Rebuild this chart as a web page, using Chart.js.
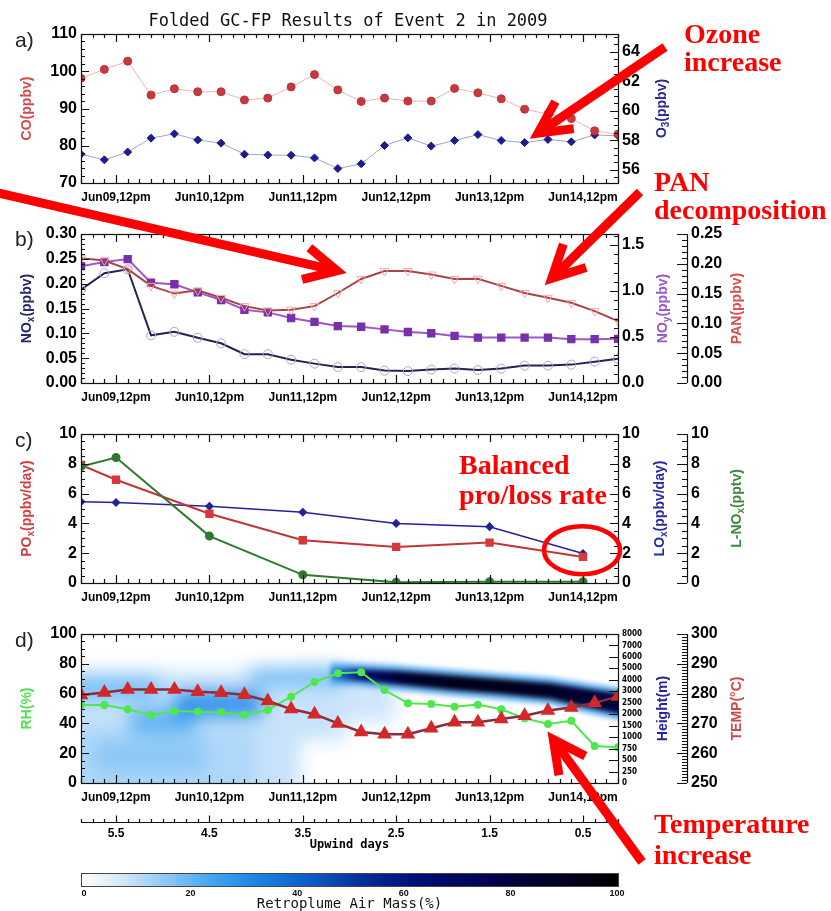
<!DOCTYPE html>
<html>
<head>
<meta charset="utf-8">
<title>Folded GC-FP Results of Event 2 in 2009</title>
<script src="https://cdn.jsdelivr.net/npm/chart.js@4.4.1/dist/chart.umd.min.js"></script>
<style>
  html, body { margin: 0; padding: 0; background: #fff; }
  #page { position: relative; width: 831px; height: 911px; overflow: hidden; background: #fff; }
  #page canvas { position: absolute; left: 0; }
  #notes { position: absolute; left: 0; top: 0; }
</style>
</head>
<body>
<div id="page">
  <canvas id="panelA" width="831" height="212" style="top:0"></canvas>
  <canvas id="panelB" width="831" height="212" style="top:200px"></canvas>
  <canvas id="panelC" width="831" height="212" style="top:400px"></canvas>
  <canvas id="panelD" width="831" height="311" style="top:600px"></canvas>
  <canvas id="arrows" width="831" height="911" style="top:0"></canvas>
  <svg id="notes" width="831" height="911">
    <text x="348" y="26" text-anchor="middle" font-family="DejaVu Sans Mono" font-size="17" fill="#111">Folded GC-FP Results of Event 2 in 2009</text>
    <g font-family="Liberation Sans" font-size="21" fill="#222">
      <text x="15" y="47">a)</text>
      <text x="15" y="246">b)</text>
      <text x="15" y="447">c)</text>
      <text x="15" y="647">d)</text>
    </g>
    <g font-family="Liberation Serif" font-weight="bold" font-size="28" fill="#ff0000">
      <text x="684" y="43">Ozone</text>
      <text x="684" y="71">increase</text>
      <text x="654" y="191">PAN</text>
      <text x="654" y="219">decomposition</text>
      <text x="459" y="474">Balanced</text>
      <text x="459" y="504">pro/loss rate</text>
      <text x="654" y="833">Temperature</text>
      <text x="654" y="864">increase</text>
    </g>
  </svg>
</div>
<script>
// time axis in days since Jun09 00:00
const X_MIN = 0.125, X_MAX = 5.875;
const sixHourDays = [0.125, 0.375, 0.625, 0.875, 1.125, 1.375, 1.625, 1.875, 2.125, 2.375, 2.625, 2.875,
                     3.125, 3.375, 3.625, 3.875, 4.125, 4.375, 4.625, 4.875, 5.125, 5.375, 5.625, 5.875];
const dailyDays = [0.125, 0.5, 1.5, 2.5, 3.5, 4.5, 5.5];
const xTickVals = [0.5, 1.5, 2.5, 3.5, 4.5, 5.5];
const xTickLabels = ['Jun09,12pm', 'Jun10,12pm', 'Jun11,12pm', 'Jun12,12pm', 'Jun13,12pm', 'Jun14,12pm'];

// a) CO and O3
const coPpbv = [98.1, 100.5, 102.7, 93.6, 95.3, 94.5, 94.5, 92.3, 92.8, 95.8, 99.1, 95.0,
                91.9, 92.8, 92.0, 92.0, 95.4, 94.2, 92.6, 89.8, 88.5, 87.3, 84.0, 83.1];
const o3Ppbv = [57.05, 56.67, 57.2, 58.14, 58.43, 58.02, 57.8, 57.05, 57.0, 56.98, 56.8, 56.08,
                56.4, 57.64, 58.16, 57.6, 57.98, 58.38, 57.98, 57.84, 58.05, 57.89, 58.36, 58.3];

// b) NOx, NOy, PAN
const noxPpbv = [0.188, 0.221, 0.229, 0.096, 0.103, 0.091, 0.080, 0.058, 0.058, 0.047, 0.039, 0.032,
                 0.032, 0.025, 0.024, 0.027, 0.029, 0.026, 0.029, 0.035, 0.035, 0.037, 0.043, 0.049];
const noyPpbv = [1.27, 1.315, 1.347, 1.091, 1.074, 0.985, 0.903, 0.797, 0.768, 0.707, 0.664, 0.619,
                 0.611, 0.583, 0.555, 0.541, 0.512, 0.494, 0.494, 0.494, 0.494, 0.477, 0.477, 0.48];
const panPpbv = [0.2095, 0.2055, 0.191, 0.163, 0.15, 0.1555, 0.143, 0.129, 0.1217, 0.123, 0.129, 0.151,
                 0.1745, 0.188, 0.188, 0.182, 0.1745, 0.175, 0.163, 0.151, 0.143, 0.1345, 0.1205, 0.104];

// c) production / loss rates
const poxRate = [7.93, 6.93, 4.65, 2.87, 2.42, 2.71, 1.75];
const loxRate = [5.45, 5.4, 5.15, 4.75, 4.0, 3.78, 1.98];
const lnoxPptv = [7.82, 8.42, 3.15, 0.55, 0.05, 0.09, 0.09];

// d) RH and temperature
const rhPct = [52.3, 52.3, 49.5, 45.6, 48.3, 47.9, 47.4, 45.8, 49.0, 57.9, 67.8, 73.6,
               74.3, 62.4, 53.5, 53.0, 51.2, 52.6, 49.5, 43.4, 39.6, 41.8, 24.8, 24.0];
const tempK = [279.5, 280.4, 281.4, 281.4, 281.4, 280.6, 280.3, 279.6, 277.5, 274.8, 273.1, 270.0,
               267.1, 266.4, 266.4, 268.4, 270.4, 270.4, 271.5, 272.6, 274.3, 275.3, 276.9, 279.0];

// axis tick values
const coTicks = [70, 80, 90, 100, 110];
const o3Ticks = [56, 58, 60, 62, 64];
const noxTicks = [0, 0.05, 0.10, 0.15, 0.20, 0.25, 0.30];
const noyTicks = [0, 0.5, 1.0, 1.5];
const panTicks = [0, 0.05, 0.10, 0.15, 0.20, 0.25];
const rateTicks = [0, 2, 4, 6, 8, 10];
const rhTicks = [0, 20, 40, 60, 80, 100];
const heightLabels = ['0', '250', '500', '750', '1000', '1500', '2000', '2500', '3000', '4000', '5000', '6000', '7000', '8000'];
const heightIndex = [0, 1, 2, 3, 4, 5, 6, 7, 8, 9, 10, 11, 12, 13];
const tempTicks = [250, 260, 270, 280, 290, 300];
const upwindTicks = [5.5, 4.5, 3.5, 2.5, 1.5, 0.5];
const airMassTicks = [0, 20, 40, 60, 80, 100];

// retroplume air mass (%): haze cells [day0, day1, heightIdx0, heightIdx1, percent]
const hazeCells = [
  [0.0, 2.47, -0.5, 9.69, 9],
  [2.47, 2.95, 3.75, 10.2, 9],
  [2.95, 3.49, 5.3, 10.0, 8],
  [0.0, 1.99, -0.5, 4.8, 12],
  [0.275, 1.45, 0.96, 3.75, 16],
  [0.0, 0.97, 7.24, 9.34, 18],
  [0.65, 1.35, 4.45, 6.37, 22],
  [1.13, 2.06, 5.85, 7.94, 30],
  [1.935, 2.95, 8.64, 10.03, 20]
];
// main plume (height index range along time)
const plumeDays = [2.80, 3.12, 3.55, 4.08, 4.61, 5.15, 5.57, 5.875, 6.0];
const plumeLow  = [8.99, 8.90, 8.55, 8.12, 7.77, 7.33, 6.54, 6.02, 5.95];
const plumeHigh = [10.03, 9.95, 9.77, 9.42, 9.08, 8.73, 8.20, 7.85, 7.80];
const plumePct  = [30, 65, 85, 92, 92, 88, 84, 80, 80];
const airMassStops = [
  [0, [255, 255, 255]], [8, [207, 230, 251]], [16, [140, 200, 246]], [24, [69, 166, 242]],
  [32, [31, 134, 230]], [42, [14, 94, 200]], [52, [7, 48, 156]], [62, [2, 15, 120]],
  [80, [0, 0, 64]], [100, [0, 0, 0]]
];

Chart.defaults.font.family = '"Liberation Sans", Arial, sans-serif';
Chart.defaults.color = '#000';
const LABEL_FONT = {size: 16, weight: 'bold'};

function airMassColor(p) {
  for (let i = 1; i < airMassStops.length; i++) {
    const [p0, c0] = airMassStops[i - 1], [p1, c1] = airMassStops[i];
    if (p <= p1) {
      const t = (p - p0) / (p1 - p0);
      return 'rgb(' + c0.map((c, k) => Math.round(c + (c1[k] - c) * t)).join(',') + ')';
    }
  }
  return 'rgb(0,0,0)';
}

function stepValues(min, max, step) {
  const lo = Math.min(min, max), hi = Math.max(min, max), out = [];
  for (let k = Math.ceil(lo / step - 1e-6); k * step <= hi + 1e-6; k++) out.push(k * step);
  return out;
}

function fixedTicks(values) {
  return s => { s.ticks = values.map(v => ({value: v})); };
}

function xAxis() {
  return {
    type: 'linear', position: 'bottom', min: X_MIN, max: X_MAX,
    grid: {display: false, drawTicks: false}, border: {display: false},
    afterBuildTicks: fixedTicks(xTickVals),
    afterFit: s => { s.height = 29; },
    ticks: {autoSkip: false, maxRotation: 0, padding: 7, font: {size: 12, weight: 'bold'},
            callback: (v, i) => xTickLabels[i]}
  };
}

function yAxis(position, min, max, values, width, digits, font, labels) {
  return {
    type: 'linear', position, min, max,
    grid: {display: false, drawTicks: false}, border: {display: false},
    afterBuildTicks: fixedTicks(values),
    afterFit: s => { s.width = width; },
    ticks: {autoSkip: false, padding: 4, font: font || LABEL_FONT,
            callback: (v, i) => labels ? labels[i] : (digits == null ? String(values[i]) : values[i].toFixed(digits))}
  };
}

function series(xs, ys, yAxisID, style) {
  return Object.assign({data: xs.map((x, i) => ({x, y: ys[i]})), yAxisID, tension: 0}, style);
}

// IDL-like frame, tick marks and side titles for each panel
const frameSpecs = {};

const idlFrame = {
  id: 'idlFrame',
  afterDatasetsDraw(chart) {
    const spec = frameSpecs[chart.canvas.id];
    const {ctx, chartArea: a, scales} = chart;
    ctx.save();
    ctx.strokeStyle = '#111';
    ctx.lineWidth = 1.2;
    ctx.strokeRect(Math.round(a.left) + 0.5, Math.round(a.top) + 0.5, Math.round(a.right - a.left), Math.round(a.bottom - a.top));
    ctx.beginPath();
    spec.axes.forEach(ax => {
      const s = scales[ax.id];
      const majLen = ax.majLen || 8, minLen = ax.minLen || 4;
      if (ax.kind === 'float') {
        ctx.moveTo(s.left + 0.5, a.top); ctx.lineTo(s.left + 0.5, a.bottom);
      }
      const lineY = ax.kind === 'upwind' ? Math.round(s.top + 10) + 0.5 : 0;
      if (ax.kind === 'upwind') { ctx.moveTo(a.left, lineY); ctx.lineTo(a.right, lineY); }
      stepValues(s.min, s.max, ax.minor).forEach(v => {
        const major = ax.majors.some(m => Math.abs(m - v) < 1e-6);
        const len = major ? majLen : minLen;
        const p = Math.round(s.getPixelForValue(v)) + 0.5;
        if (ax.kind === 'x') {
          ctx.moveTo(p, a.bottom); ctx.lineTo(p, a.bottom - len);
          ctx.moveTo(p, a.top); ctx.lineTo(p, a.top + len);
        } else if (ax.kind === 'upwind') {
          ctx.moveTo(p, lineY); ctx.lineTo(p, lineY - len);
        } else if (ax.kind === 'left') {
          ctx.moveTo(a.left, p); ctx.lineTo(a.left + len, p);
        } else if (ax.kind === 'right') {
          ctx.moveTo(a.right, p); ctx.lineTo(a.right - len, p);
        } else {
          ctx.moveTo(s.left, p); ctx.lineTo(s.left - len, p);
        }
      });
    });
    ctx.stroke();
    const cy = (a.top + a.bottom) / 2;
    spec.titles.forEach(t => drawSideTitle(ctx, t.x, cy, t.parts, t.color, 14));
    ctx.restore();
  }
};

function drawSideTitle(ctx, cx, cy, parts, color, size) {
  const big = 'bold ' + size + 'px "Liberation Sans", Arial, sans-serif';
  const small = 'bold ' + Math.round(size * 0.7) + 'px "Liberation Sans", Arial, sans-serif';
  ctx.save();
  ctx.translate(cx, cy);
  ctx.rotate(-Math.PI / 2);
  ctx.fillStyle = color;
  ctx.textBaseline = 'middle';
  let w = 0;
  parts.forEach(p => { ctx.font = p[0] === '_' ? small : big; w += ctx.measureText(p.replace(/^_/, '')).width; });
  let x = -w / 2;
  parts.forEach(p => {
    const sub = p[0] === '_', txt = p.replace(/^_/, '');
    ctx.font = sub ? small : big;
    ctx.fillText(txt, x, sub ? size * 0.3 : 0);
    x += ctx.measureText(txt).width;
  });
  ctx.restore();
}

// separable box blur on the RGB channels of an ImageData (edges clamped)
function blurImage(img, r, passes) {
  const w = img.width, h = img.height, d = img.data, n = 2 * r + 1;
  let a = new Float32Array(w * h * 3), b = new Float32Array(w * h * 3);
  for (let i = 0; i < w * h; i++) { a[i * 3] = d[i * 4]; a[i * 3 + 1] = d[i * 4 + 1]; a[i * 3 + 2] = d[i * 4 + 2]; }
  const run = (src, dst, len, count, idx) => {
    for (let line = 0; line < count; line++) {
      for (let c = 0; c < 3; c++) {
        let s = 0;
        for (let k = -r; k <= r; k++) s += src[idx(line, Math.min(len - 1, Math.max(0, k))) + c];
        for (let i = 0; i < len; i++) {
          dst[idx(line, i) + c] = s / n;
          s += src[idx(line, Math.min(len - 1, i + r + 1)) + c] - src[idx(line, Math.max(0, i - r)) + c];
        }
      }
    }
  };
  for (let p = 0; p < passes; p++) {
    run(a, b, w, h, (y, x) => (y * w + x) * 3);
    run(b, a, h, w, (x, y) => (y * w + x) * 3);
  }
  for (let i = 0; i < w * h; i++) {
    d[i * 4] = a[i * 3]; d[i * 4 + 1] = a[i * 3 + 1]; d[i * 4 + 2] = a[i * 3 + 2]; d[i * 4 + 3] = 255;
  }
  return img;
}

// retroplume field: cells and plume band painted through the scales, then softened
const retroplume = {
  id: 'retroplume',
  beforeDatasetsDraw(chart) {
    const {ctx, chartArea: a, scales: {x, yH}} = chart;
    const w = Math.round(a.right - a.left), h = Math.round(a.bottom - a.top);
    const off = document.createElement('canvas');
    off.width = w; off.height = h;
    const o = off.getContext('2d');
    o.fillStyle = '#fff';
    o.fillRect(0, 0, w, h);
    o.translate(-a.left, -a.top);
    hazeCells.slice().sort((p, q) => p[4] - q[4]).forEach(([d0, d1, h0, h1, pct]) => {
      const x0 = x.getPixelForValue(d0), x1 = x.getPixelForValue(d1);
      const y0 = yH.getPixelForValue(h1), y1 = yH.getPixelForValue(h0);
      o.fillStyle = airMassColor(pct);
      o.fillRect(x0, y0, x1 - x0, y1 - y0);
    });
    o.setTransform(1, 0, 0, 1, 0, 0);
    o.putImageData(blurImage(o.getImageData(0, 0, w, h), 8, 3), 0, 0);
    o.translate(-a.left, -a.top);
    const band = pad => {
      o.beginPath();
      plumeDays.forEach((d, i) => {
        const px = x.getPixelForValue(d), py = yH.getPixelForValue(plumeHigh[i] + pad);
        i ? o.lineTo(px, py) : o.moveTo(px, py);
      });
      for (let i = plumeDays.length - 1; i >= 0; i--) {
        o.lineTo(x.getPixelForValue(plumeDays[i]), yH.getPixelForValue(plumeLow[i] - pad));
      }
      o.closePath();
    };
    band(0.5);
    o.fillStyle = airMassColor(20);
    o.fill();
    const gx0 = x.getPixelForValue(plumeDays[0]), gx1 = x.getPixelForValue(plumeDays[plumeDays.length - 1]);
    const grad = o.createLinearGradient(gx0, 0, gx1, 0);
    plumeDays.forEach((d, i) => grad.addColorStop((x.getPixelForValue(d) - gx0) / (gx1 - gx0), airMassColor(plumePct[i])));
    band(0);
    o.fillStyle = grad;
    o.fill();
    o.setTransform(1, 0, 0, 1, 0, 0);
    o.putImageData(blurImage(o.getImageData(0, 0, w, h), 2, 3), 0, 0);
    ctx.drawImage(off, Math.round(a.left), Math.round(a.top));
  }
};

const colorbar = {
  id: 'colorbar',
  afterDraw(chart) {
    const {ctx, chartArea: a} = chart;
    const y0 = 273, h = 13, w = a.right - a.left;
    ctx.save();
    const g = ctx.createLinearGradient(a.left, 0, a.right, 0);
    airMassStops.forEach(([p]) => g.addColorStop(p / 100, airMassColor(p)));
    ctx.fillStyle = g;
    ctx.fillRect(a.left, y0, w, h);
    ctx.strokeStyle = '#444';
    ctx.lineWidth = 1;
    ctx.strokeRect(a.left + 0.5, y0 + 0.5, w, h);
    ctx.fillStyle = '#111';
    ctx.font = 'bold 9px "Liberation Sans", Arial, sans-serif';
    ctx.textAlign = 'center';
    ctx.textBaseline = 'middle';
    airMassTicks.forEach(v => ctx.fillText(String(v), a.left + 3 + v / 100 * (w - 4), y0 + h + 8));
    ctx.font = '14px "DejaVu Sans Mono", monospace';
    ctx.fillText('Retroplume Air Mass(%)', (a.left + a.right) / 2, 304);
    ctx.restore();
  }
};

function panel(id, datasets, scales, extraPlugins, padBottom) {
  return new Chart(document.getElementById(id), {
    type: 'line',
    data: {datasets},
    options: {
      responsive: false, animation: false, events: [],
      layout: {padding: {left: 0, right: 0, top: 34, bottom: padBottom}},
      plugins: {legend: {display: false}, tooltip: {enabled: false}},
      scales
    },
    plugins: [idlFrame].concat(extraPlugins || [])
  });
}

// ---- panel a ----
frameSpecs.panelA = {
  axes: [
    {id: 'x', kind: 'x', majors: xTickVals, minor: 0.125},
    {id: 'y', kind: 'left', majors: coTicks, minor: 2},
    {id: 'yO3', kind: 'right', majors: o3Ticks, minor: 0.5}
  ],
  titles: [
    {x: 27, parts: ['CO(ppbv)'], color: '#d24a4a'},
    {x: 662, parts: ['O', '_3', '(ppbv)'], color: '#2b2b92'}
  ]
};
const chartA = panel('panelA', [
  series(sixHourDays, coPpbv, 'y', {borderColor: '#eeb4b4', borderWidth: 1, pointStyle: 'circle', pointRadius: 4,
    pointBackgroundColor: '#c8393f', pointBorderColor: '#b83434', pointBorderWidth: 1}),
  series(sixHourDays, o3Ppbv, 'yO3', {borderColor: '#a4a4c4', borderWidth: 1, pointStyle: 'rectRot', pointRadius: 4,
    pointBackgroundColor: '#1c1c8c', pointBorderColor: '#1c1c8c', pointBorderWidth: 1})
], {
  x: xAxis(),
  y: yAxis('left', 70, 110, coTicks, 81),
  yO3: yAxis('right', 55.1, 65.2, o3Ticks, 213)
}, [], 0);

// ---- panel b ----
frameSpecs.panelB = {
  axes: [
    {id: 'x', kind: 'x', majors: xTickVals, minor: 0.125},
    {id: 'y', kind: 'left', majors: noxTicks, minor: 0.01},
    {id: 'yNOy', kind: 'right', majors: noyTicks, minor: 0.1},
    {id: 'yPAN', kind: 'float', majors: panTicks, minor: 0.01, majLen: 10, minLen: 5}
  ],
  titles: [
    {x: 27, parts: ['NO', '_x', '(ppbv)'], color: '#26266e'},
    {x: 663, parts: ['NO', '_y', '(ppbv)'], color: '#9b57c9'},
    {x: 737, parts: ['PAN(ppbv)'], color: '#d65050'}
  ]
};
const chartB = panel('panelB', [
  series(sixHourDays, panPpbv, 'yPAN', {borderColor: '#a84444', borderWidth: 2, pointStyle: 'triangle', rotation: 180,
    pointRadius: 5, pointBackgroundColor: 'rgba(255,255,255,0)', pointBorderColor: '#f2a8a8', pointBorderWidth: 1}),
  series(sixHourDays, noyPpbv, 'yNOy', {borderColor: '#9a58c8', borderWidth: 2, pointStyle: 'rect', pointRadius: 4.5,
    pointBackgroundColor: '#7a2fae', pointBorderColor: '#7a2fae'}),
  series(sixHourDays, noxPpbv, 'y', {borderColor: '#23234f', borderWidth: 2, pointStyle: 'circle', pointRadius: 4.5,
    pointBackgroundColor: 'rgba(255,255,255,0)', pointBorderColor: '#a4a4d6', pointBorderWidth: 1})
], {
  x: xAxis(),
  y: yAxis('left', 0, 0.30, noxTicks, 81, 2),
  yNOy: yAxis('right', 0, 1.62, noyTicks, 69, 1),
  yPAN: yAxis('right', 0, 0.25, panTicks, 144, 2)
}, [], 0);

// ---- panel c ----
frameSpecs.panelC = {
  axes: [
    {id: 'x', kind: 'x', majors: xTickVals, minor: 0.125},
    {id: 'y', kind: 'left', majors: rateTicks, minor: 0.5},
    {id: 'yLO', kind: 'right', majors: rateTicks, minor: 0.5},
    {id: 'yLN', kind: 'float', majors: rateTicks, minor: 0.5, majLen: 10, minLen: 5}
  ],
  titles: [
    {x: 27, parts: ['PO', '_x', '(ppbv/day)'], color: '#d04040'},
    {x: 660, parts: ['LO', '_x', '(ppbv/day)'], color: '#2a2aa0'},
    {x: 737, parts: ['L-NO', '_x', '(pptv)'], color: '#3d8a3d'}
  ]
};
const chartC = panel('panelC', [
  series(dailyDays, lnoxPptv, 'yLN', {borderColor: '#2d7a2d', borderWidth: 2, pointStyle: 'circle', pointRadius: 3.5,
    pointBackgroundColor: '#2d7a2d', pointBorderColor: '#2d7a2d'}),
  series(dailyDays, poxRate, 'y', {borderColor: '#c43434', borderWidth: 2, pointStyle: 'rect', pointRadius: 4.5,
    pointBackgroundColor: '#d43a3a', pointBorderColor: '#d43a3a'}),
  series(dailyDays, loxRate, 'yLO', {borderColor: '#22229a', borderWidth: 1.5, pointStyle: 'rectRot', pointRadius: 3.5,
    pointBackgroundColor: '#22229a', pointBorderColor: '#22229a'})
], {
  x: xAxis(),
  y: yAxis('left', 0, 10, rateTicks, 81),
  yLO: yAxis('right', 0, 10, rateTicks, 69),
  yLN: yAxis('right', 0, 10, rateTicks, 144)
}, [], 0);

// ---- panel d ----
frameSpecs.panelD = {
  axes: [
    {id: 'x', kind: 'x', majors: xTickVals, minor: 0.125},
    {id: 'x2', kind: 'upwind', majors: upwindTicks, minor: 0.125, majLen: 7, minLen: 3.5},
    {id: 'y', kind: 'left', majors: rhTicks, minor: 5},
    {id: 'yH', kind: 'right', majors: heightIndex, minor: 1, majLen: 9},
    {id: 'yT', kind: 'float', majors: tempTicks, minor: 1, majLen: 10, minLen: 5}
  ],
  titles: [
    {x: 27, parts: ['RH(%)'], color: '#55dd55'},
    {x: 663, parts: ['Height(m)'], color: '#22229a'},
    {x: 737, parts: ['TEMP(\u00b0C)'], color: '#d04848'}
  ]
};
const upwindAxis = {
  type: 'linear', position: 'bottom', min: X_MIN, max: X_MAX, reverse: true,
  grid: {display: false, drawTicks: false}, border: {display: false},
  afterBuildTicks: fixedTicks(upwindTicks),
  afterFit: s => { s.height = 41; },
  ticks: {autoSkip: false, maxRotation: 0, padding: 14, font: {size: 12, weight: 'bold'},
          callback: (v, i) => upwindTicks[i].toFixed(1)},
  title: {display: true, text: 'Upwind days', padding: {top: 0, bottom: 1},
          font: {family: '"DejaVu Sans Mono", monospace', size: 12, weight: 'bold'}}
};
const chartD = panel('panelD', [
  series(sixHourDays, tempK, 'yT', {borderColor: '#8c2c3c', borderWidth: 2.5, pointStyle: 'triangle', pointRadius: 6,
    pointBackgroundColor: '#d42828', pointBorderColor: '#d42828'}),
  series(sixHourDays, rhPct, 'y', {borderColor: '#4ee84e', borderWidth: 2, pointStyle: 'circle', pointRadius: 3,
    pointBackgroundColor: '#4ee84e', pointBorderColor: '#4ee84e'})
], {
  x: xAxis(),
  x2: upwindAxis,
  y: yAxis('left', 0, 100, rhTicks, 81),
  yH: yAxis('right', 0, 13, heightIndex, 69, null,
            {size: 8, weight: 'bold', family: '"Liberation Sans Narrow", "DejaVu Sans Condensed", sans-serif'}, heightLabels),
  yT: yAxis('right', 250, 300, tempTicks, 144)
}, [retroplume, colorbar], 58);

// ---- red annotations, anchored to the data scales ----
const pageTop = {panelA: 0, panelB: 200, panelC: 400, panelD: 600};
function toPage(chart, day, value, axis) {
  return [chart.scales.x.getPixelForValue(day), pageTop[chart.canvas.id] + chart.scales[axis].getPixelForValue(value)];
}
const arrowNotes = [
  {chart: chartA, day: 4.93, value: 58.1, axis: 'yO3', tail: [665, 47]},
  {chart: chartB, day: 2.97, value: 0.2215, axis: 'y', tail: [-10, 191]},
  {chart: chartB, day: 5.09, value: 0.197, axis: 'y', tail: [640, 192]},
  {chart: chartD, day: 5.12, value: 34.5, axis: 'y', tail: [642, 862]}
];
const ringNote = {chart: chartC, day: 5.49, value: 2.2, axis: 'y', rx: 38, ry: 24};

const actx = document.getElementById('arrows').getContext('2d');
actx.strokeStyle = '#ff0000';
actx.lineWidth = 9;
arrowNotes.forEach(n => {
  const tip = toPage(n.chart, n.day, n.value, n.axis);
  const ang = Math.atan2(n.tail[1] - tip[1], n.tail[0] - tip[0]);
  const half = 0.47, arm = 36;
  const back = (actx.lineWidth / 2) / Math.sin(half);
  const jx = tip[0] + back * Math.cos(ang), jy = tip[1] + back * Math.sin(ang);
  actx.lineCap = 'butt';
  actx.lineJoin = 'miter';
  actx.beginPath();
  actx.moveTo(n.tail[0], n.tail[1]);
  actx.lineTo(jx, jy);
  actx.stroke();
  actx.beginPath();
  actx.moveTo(jx + arm * Math.cos(ang + half), jy + arm * Math.sin(ang + half));
  actx.lineTo(jx, jy);
  actx.lineTo(jx + arm * Math.cos(ang - half), jy + arm * Math.sin(ang - half));
  actx.stroke();
});
const ring = toPage(ringNote.chart, ringNote.day, ringNote.value, ringNote.axis);
actx.lineWidth = 4.5;
actx.beginPath();
actx.ellipse(ring[0], ring[1], ringNote.rx, ringNote.ry, 0, 0, Math.PI * 2);
actx.stroke();
</script>
</body>
</html>
